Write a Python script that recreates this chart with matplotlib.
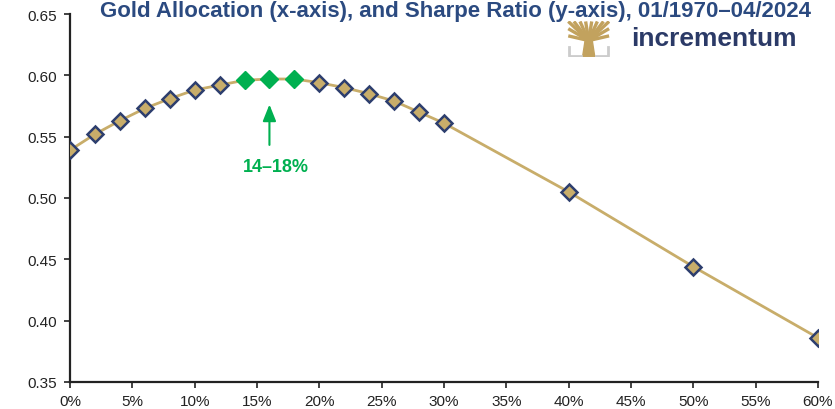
import matplotlib.pyplot as plt
from matplotlib.ticker import FuncFormatter, MultipleLocator

plt.rcParams['font.family'] = ['Liberation Sans', 'DejaVu Sans']

# gold allocation (%) and Sharpe ratio
alloc = [0, 2, 4, 6, 8, 10, 12, 14, 16, 18, 20, 22, 24, 26, 28, 30, 40, 50, 60]
sharpe = [0.539, 0.552, 0.563, 0.573, 0.581, 0.588, 0.592, 0.596, 0.597, 0.597,
          0.594, 0.590, 0.585, 0.579, 0.570, 0.561, 0.505, 0.444, 0.386]
best = [14, 16, 18]
best_label = "14\u201318%"

gold = '#C8AD6A'
navy = '#2D3E6E'
green = '#00B050'

fig = plt.figure(figsize=(8.35, 4.1), dpi=100)
ax = fig.add_axes([0.0838, 0.0659, 0.8958, 0.8975])

ax.plot(alloc, sharpe, color=gold, lw=2, zorder=2)
for a, s in zip(alloc, sharpe):
    if a in best:
        ax.plot(a, s, marker='D', ms=9.5, mfc=green, mec=green, mew=1, zorder=3)
    else:
        ax.plot(a, s, marker='D', ms=8, mfc=gold, mec=navy, mew=1.8, zorder=3)

ax.annotate('', xy=(16, 0.5785), xytext=(16, 0.541),
            arrowprops=dict(arrowstyle='-|>,head_width=0.4,head_length=1.0',
                            color=green, lw=1.5))
ax.text(16.5, 0.526, best_label, color=green, fontsize=13, fontweight='bold',
        ha='center', va='center')

ax.set_xlim(0, 60)
ax.set_ylim(0.35, 0.65)
ax.xaxis.set_major_locator(MultipleLocator(5))
ax.yaxis.set_major_locator(MultipleLocator(0.05))
ax.xaxis.set_major_formatter(FuncFormatter(lambda v, p: f'{v:.0f}%'))
ax.yaxis.set_major_formatter(FuncFormatter(lambda v, p: f'{v:.2f}'))
ax.tick_params(labelsize=11, colors='#222222', length=4, width=1.2, pad=5)
for side in ['top', 'right']:
    ax.spines[side].set_visible(False)
for side in ['left', 'bottom']:
    ax.spines[side].set_linewidth(1.6)
    ax.spines[side].set_color('#222222')
ax.spines['left'].set_zorder(1)

# title (sits right at the top edge of the picture)
fig.text(0.545, 0.998, 'Gold Allocation (x-axis), and Sharpe Ratio (y-axis), 01/1970\u201304/2024',
         color='#2B4A80', fontsize=16, fontweight='bold', ha='center', va='top')

# logo
fig.text(0.756, 0.905, 'incrementum', color='#2B3A67', fontsize=19, fontweight='bold',
         ha='left', va='center')
lx = fig.add_axes([0.679, 0.859, 0.052, 0.088])
lx.set_xlim(0, 10)
lx.set_ylim(0, 10)
lx.axis('off')
lx.fill([3.6, 6.4, 5.7, 4.3], [0, 0, 5.5, 5.5], color='#C2A25E')
for x0, y0 in [(0.3, 9.8), (1.6, 9.8), (3.0, 9.8), (4.3, 9.8), (5.7, 9.8), (7.0, 9.8),
               (8.4, 9.8), (9.7, 9.8), (0.3, 7.8), (9.7, 7.8), (0.3, 5.8), (9.7, 5.8)]:
    lx.plot([5, x0], [4.5, y0], color='#C2A25E', lw=2.4, solid_capstyle='butt')
lx.plot([0.5, 0.5, 3.2], [2.8, 0.3, 0.3], color='#CCCCCC', lw=2)
lx.plot([9.5, 9.5, 6.8], [2.8, 0.3, 0.3], color='#CCCCCC', lw=2)

fig.savefig('out.png', dpi=100)
